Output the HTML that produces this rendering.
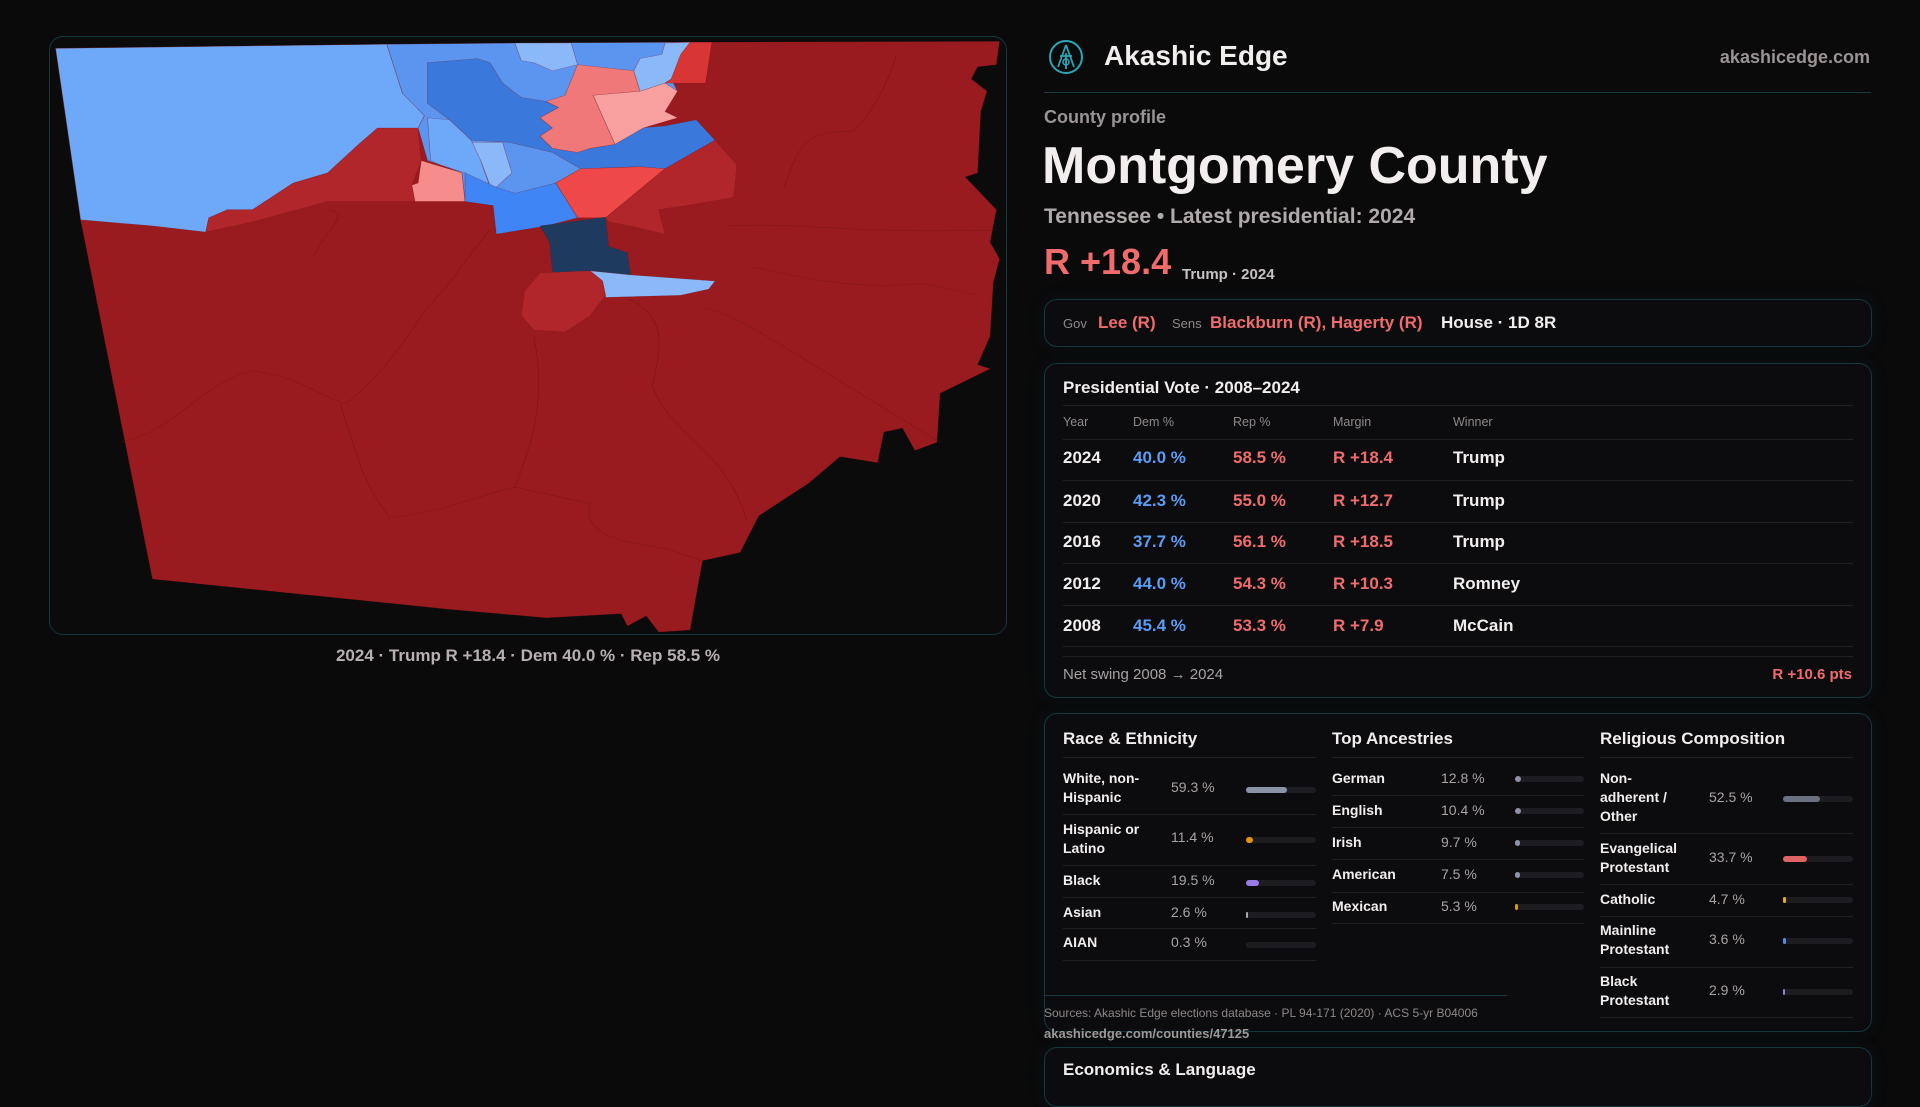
<!DOCTYPE html>
<html><head><meta charset="utf-8"><style>
*{margin:0;padding:0;box-sizing:border-box}
body{width:1920px;height:1080px;background:#0a0a0b;overflow:hidden;position:relative;font-family:"Liberation Sans",sans-serif;color:#f2eeee}
.t{position:absolute;line-height:1;white-space:nowrap}
.b{font-weight:bold}
.box{position:absolute;left:1044px;width:828px;border:1.5px solid #14363d;border-radius:13px;background:#0c0c0e;box-shadow:0 0 18px rgba(20,80,90,0.12)}
.hl{position:absolute;height:1px;background:#202024}
.red{color:#f06c6c}.blue{color:#5b9cf5}.gray{color:#8e8888}
.lb{position:absolute;font-size:14px;line-height:19px;font-weight:bold;color:#f2eeee}
.v{position:absolute;font-size:14px;line-height:1;color:#aaa3a3}
.trk{position:absolute;height:6px;border-radius:3px;background:#1d1d21}
.fil{position:absolute;left:0;top:0;height:6px;border-radius:3px}
</style></head><body>

<!-- Map panel -->
<div style="position:absolute;left:49px;top:36px;width:958px;height:599px;border:1.5px solid #14363d;border-radius:14px;background:#0b0b0c"></div>
<svg style="position:absolute;left:40px;top:30px" width="980" height="640" viewBox="0 0 1568 1568" preserveAspectRatio="none">
<g stroke="#7a1518" stroke-width="1" stroke-opacity="0.5">
<polygon fill="#9a1b1f" points="25,45 555,35 1040,30 1535,28 1530,85 1500,90 1490,120 1515,150 1505,200 1500,350 1480,360 1530,440 1520,520 1535,560 1525,620 1520,750 1500,820 1520,830 1440,890 1435,1010 1400,1030 1380,975 1350,985 1340,1060 1280,1045 1230,1110 1150,1190 1130,1250 1120,1280 1060,1300 1055,1340 1040,1470 990,1475 970,1435 940,1460 930,1430 810,1440 660,1420 180,1345 65,465"/>
<polygon fill="#b1262a" points="265,495 270,460 300,440 340,440 405,375 460,350 510,280 540,240 605,240 610,320 595,380 600,420 460,420 340,470"/>
<polygon fill="#6ea8f8" points="25,45 555,35 580,155 620,150 615,210 605,240 540,240 510,280 460,350 405,375 340,440 300,440 270,460 265,495 180,480 65,465"/>
<polygon fill="#5b95f0" points="555,35 760,32 1040,30 1025,60 1010,120 1020,150 1000,200 1020,215 960,240 1080,270 1000,340 865,340 825,375 860,460 810,480 730,500 725,430 680,420 675,350 640,330 620,320 605,240 615,210 580,155"/>
<polygon fill="#8ab8f8" points="760,32 850,32 860,85 820,100 790,80 770,75"/>
<polygon fill="#3a78dc" points="620,80 700,70 720,80 740,130 770,165 810,175 830,190 800,215 820,240 800,260 820,290 860,300 880,290 920,280 960,240 1000,235 1050,220 1080,270 1000,340 960,335 865,340 820,300 750,275 690,270 655,220 620,180"/>
<polygon fill="#8ab8f8" points="685,275 740,275 755,350 730,385 720,380 705,320"/>
<polygon fill="#6ea8f8" points="620,215 655,220 690,270 705,320 720,385 680,350 640,330 625,320"/>
<polygon fill="#f07878" points="840,160 860,85 950,100 960,150 885,160 920,280 880,290 860,300 820,290 800,260 820,240 800,215 830,190 810,175"/>
<polygon fill="#f8a0a0" points="885,160 960,150 1000,130 1020,150 1000,200 1020,215 965,240 920,280"/>
<polygon fill="#8ab8f8" points="960,70 995,60 1000,32 1040,30 1010,120 1000,130 960,150 950,100"/>
<polygon fill="#d83535" points="1040,30 1075,30 1065,130 1000,130 1010,120 1025,60"/>
<polygon fill="#ef4848" points="865,340 960,335 1000,340 905,460 860,460 825,375"/>
<polygon fill="#b1262a" points="1000,340 1080,270 1115,330 1110,410 1035,430 990,440 1000,500 945,480 910,470 905,460"/>
<polygon fill="#f58d8d" points="610,320 675,350 680,420 600,420 595,380 605,375"/>
<polygon fill="#3f85f5" points="680,420 725,430 730,500 810,480 860,460 825,375 760,400 730,385 680,350"/>
<polygon fill="#1e3a5f" points="800,480 905,458 910,530 940,545 945,600 880,590 820,595 815,520"/>
<polygon fill="#8ab8f8" points="880,590 945,600 1080,615 1070,635 1025,650 905,655 900,615"/>
<polygon fill="#b1262a" points="800,595 880,590 900,615 905,650 880,700 840,740 790,735 770,700 775,640"/>
</g>
<g fill="none" stroke="#6e1215" stroke-width="1.2" stroke-opacity="0.6">
<path d="M130,1010 C220,980 260,860 340,835 C420,850 460,910 490,915 C560,830 600,720 620,680 C660,620 680,560 720,490"/>
<path d="M480,915 C500,1000 510,1100 560,1195 C650,1180 700,1140 760,1120 C790,1000 810,900 790,750"/>
<path d="M760,1120 L880,1160 C870,1220 900,1250 1000,1270 L1060,1300"/>
<path d="M940,660 C1010,700 990,800 980,870 C1000,980 1100,1030 1130,1200"/>
<path d="M1060,680 C1120,700 1160,750 1440,1010"/>
<path d="M1190,390 C1210,300 1220,240 1300,250 C1330,210 1360,120 1370,60"/>
<path d="M1140,580 C1200,600 1300,640 1410,620 L1500,650"/>
<path d="M1100,480 C1200,470 1300,500 1530,490"/>
<path d="M440,550 C460,480 500,450 460,440"/>
</g>
</svg>
<div class="t b" style="left:0;width:1056px;text-align:center;top:647px;font-size:17px;color:#b8b0b0">2024 · Trump R +18.4 · Dem 40.0 % · Rep 58.5 %</div>

<!-- Header -->
<svg style="position:absolute;left:1048px;top:39px" width="36" height="36" viewBox="0 0 36 36"><circle cx="18" cy="18" r="16" fill="none" stroke="#2aa7b8" stroke-width="2"/><path d="M18 6 L10 28 M18 6 L26 28 M12 17 L24 17 M18 14 L18 30" stroke="#2aa7b8" stroke-width="1.8" fill="none"/><circle cx="18" cy="23" r="3" fill="none" stroke="#2aa7b8" stroke-width="1.5"/></svg>
<div class="t b" style="left:1104px;top:42px;font-size:28px">Akashic Edge</div>
<div class="t b" style="right:50px;top:48px;font-size:18px;color:#9a9494">akashicedge.com</div>
<div style="position:absolute;left:1044px;width:827px;top:92px;height:1px;background:#173a40"></div>
<div class="t b" style="left:1044px;top:108px;font-size:18px;color:#9a9494">County profile</div>
<div class="t b" style="left:1042px;top:140px;font-size:52px">Montgomery County</div>
<div class="t b" style="left:1044px;top:206px;font-size:21px;color:#b0aaaa">Tennessee • Latest presidential: 2024</div>
<div class="t b red" style="left:1044px;top:244px;font-size:36px">R +18.4</div>
<div class="t b" style="left:1182px;top:267px;font-size:15px;color:#c8c2c2">Trump · 2024</div>

<div class="box" style="top:299px;height:48px"></div>
<div class="t" style="left:1063px;top:317px;font-size:13px;color:#8e8888">Gov</div>
<div class="t b red" style="left:1098px;top:314px;font-size:17px">Lee (R)</div>
<div class="t" style="left:1172px;top:317px;font-size:13px;color:#8e8888">Sens</div>
<div class="t b red" style="left:1210px;top:314px;font-size:17px">Blackburn (R), Hagerty (R)</div>
<div class="t b" style="left:1441px;top:314px;font-size:17px">House · 1D 8R</div>

<!-- Presidential -->
<div class="box" style="top:363px;height:335px"></div>
<div class="t b" style="left:1063px;top:379px;font-size:17px">Presidential Vote · 2008–2024</div>
<div class="hl" style="left:1063px;width:790px;top:405px"></div>
<div class="t gray" style="left:1063px;top:416px;font-size:12.5px">Year</div>
<div class="t gray" style="left:1133px;top:416px;font-size:12.5px">Dem %</div>
<div class="t gray" style="left:1233px;top:416px;font-size:12.5px">Rep %</div>
<div class="t gray" style="left:1333px;top:416px;font-size:12.5px">Margin</div>
<div class="t gray" style="left:1453px;top:416px;font-size:12.5px">Winner</div>
<div class="hl" style="left:1063px;width:790px;top:439px"></div>

<div class="t b" style="left:1063px;top:449px;font-size:17px">2024</div><div class="t b blue" style="left:1133px;top:449px;font-size:17px">40.0 %</div><div class="t b red" style="left:1233px;top:449px;font-size:17px">58.5 %</div><div class="t b red" style="left:1333px;top:449px;font-size:17px">R +18.4</div><div class="t b" style="left:1453px;top:449px;font-size:17px">Trump</div>
<div class="hl" style="left:1063px;width:790px;top:480px"></div>
<div class="t b" style="left:1063px;top:492px;font-size:17px">2020</div><div class="t b blue" style="left:1133px;top:492px;font-size:17px">42.3 %</div><div class="t b red" style="left:1233px;top:492px;font-size:17px">55.0 %</div><div class="t b red" style="left:1333px;top:492px;font-size:17px">R +12.7</div><div class="t b" style="left:1453px;top:492px;font-size:17px">Trump</div>
<div class="hl" style="left:1063px;width:790px;top:522px"></div>
<div class="t b" style="left:1063px;top:533px;font-size:17px">2016</div><div class="t b blue" style="left:1133px;top:533px;font-size:17px">37.7 %</div><div class="t b red" style="left:1233px;top:533px;font-size:17px">56.1 %</div><div class="t b red" style="left:1333px;top:533px;font-size:17px">R +18.5</div><div class="t b" style="left:1453px;top:533px;font-size:17px">Trump</div>
<div class="hl" style="left:1063px;width:790px;top:563px"></div>
<div class="t b" style="left:1063px;top:575px;font-size:17px">2012</div><div class="t b blue" style="left:1133px;top:575px;font-size:17px">44.0 %</div><div class="t b red" style="left:1233px;top:575px;font-size:17px">54.3 %</div><div class="t b red" style="left:1333px;top:575px;font-size:17px">R +10.3</div><div class="t b" style="left:1453px;top:575px;font-size:17px">Romney</div>
<div class="hl" style="left:1063px;width:790px;top:605px"></div>
<div class="t b" style="left:1063px;top:617px;font-size:17px">2008</div><div class="t b blue" style="left:1133px;top:617px;font-size:17px">45.4 %</div><div class="t b red" style="left:1233px;top:617px;font-size:17px">53.3 %</div><div class="t b red" style="left:1333px;top:617px;font-size:17px">R +7.9</div><div class="t b" style="left:1453px;top:617px;font-size:17px">McCain</div>
<div class="hl" style="left:1063px;width:790px;top:646px"></div>
<div class="hl" style="left:1063px;width:790px;top:656px"></div>
<div class="t" style="left:1063px;top:667px;font-size:15px;color:#a8a2a2">Net swing 2008 → 2024</div>
<div class="t b red" style="right:68px;top:667px;font-size:15px">R +10.6 pts</div>

<!-- Demographics -->
<div class="box" style="top:713px;height:319px"></div>
<div class="t b" style="left:1063px;top:730px;font-size:17px">Race &amp; Ethnicity</div>
<div class="t b" style="left:1332px;top:730px;font-size:17px">Top Ancestries</div>
<div class="t b" style="left:1600px;top:730px;font-size:17px">Religious Composition</div>
<div class="hl" style="left:1063px;width:253px;top:757px"></div>
<div class="hl" style="left:1332px;width:252px;top:757px"></div>
<div class="hl" style="left:1600px;width:253px;top:757px"></div>

<!-- race -->
<div class="lb" style="left:1063px;top:769px">White, non-<br>Hispanic</div><div class="v" style="left:1171px;top:780px">59.3 %</div>
<div class="trk" style="left:1246px;top:787px;width:70px"><div class="fil" style="width:41px;background:#8a93a8"></div></div>
<div class="hl" style="left:1063px;width:253px;top:814px"></div>
<div class="lb" style="left:1063px;top:820px">Hispanic or<br>Latino</div><div class="v" style="left:1171px;top:830px">11.4 %</div>
<div class="trk" style="left:1246px;top:837px;width:70px"><div class="fil" style="width:7px;background:#e0940f"></div></div>
<div class="hl" style="left:1063px;width:253px;top:865px"></div>
<div class="lb" style="left:1063px;top:871px">Black</div><div class="v" style="left:1171px;top:873px">19.5 %</div>
<div class="trk" style="left:1246px;top:880px;width:70px"><div class="fil" style="width:13px;background:#9b7ae8"></div></div>
<div class="hl" style="left:1063px;width:253px;top:897px"></div>
<div class="lb" style="left:1063px;top:903px">Asian</div><div class="v" style="left:1171px;top:905px">2.6 %</div>
<div class="trk" style="left:1246px;top:912px;width:70px"><div class="fil" style="width:2px;background:#aaa"></div></div>
<div class="hl" style="left:1063px;width:253px;top:928px"></div>
<div class="lb" style="left:1063px;top:933px">AIAN</div><div class="v" style="left:1171px;top:935px">0.3 %</div>
<div class="trk" style="left:1246px;top:942px;width:70px"></div>
<div class="hl" style="left:1063px;width:253px;top:960px"></div>

<!-- ancestries -->
<div class="lb" style="left:1332px;top:769px">German</div><div class="v" style="left:1441px;top:771px">12.8 %</div>
<div class="trk" style="left:1515px;top:776px;width:69px"><div class="fil" style="width:6px;background:#8a93a8"></div></div>
<div class="hl" style="left:1332px;width:252px;top:795px"></div>
<div class="lb" style="left:1332px;top:801px">English</div><div class="v" style="left:1441px;top:803px">10.4 %</div>
<div class="trk" style="left:1515px;top:808px;width:69px"><div class="fil" style="width:6px;background:#8a93a8"></div></div>
<div class="hl" style="left:1332px;width:252px;top:827px"></div>
<div class="lb" style="left:1332px;top:833px">Irish</div><div class="v" style="left:1441px;top:835px">9.7 %</div>
<div class="trk" style="left:1515px;top:840px;width:69px"><div class="fil" style="width:5px;background:#8a93a8"></div></div>
<div class="hl" style="left:1332px;width:252px;top:859px"></div>
<div class="lb" style="left:1332px;top:865px">American</div><div class="v" style="left:1441px;top:867px">7.5 %</div>
<div class="trk" style="left:1515px;top:872px;width:69px"><div class="fil" style="width:5px;background:#8a93a8"></div></div>
<div class="hl" style="left:1332px;width:252px;top:892px"></div>
<div class="lb" style="left:1332px;top:897px">Mexican</div><div class="v" style="left:1441px;top:899px">5.3 %</div>
<div class="trk" style="left:1515px;top:904px;width:69px"><div class="fil" style="width:3px;background:#e0940f"></div></div>
<div class="hl" style="left:1332px;width:252px;top:923px"></div>

<!-- religion -->
<div class="lb" style="left:1600px;top:769px">Non-<br>adherent /<br>Other</div><div class="v" style="left:1709px;top:790px">52.5 %</div>
<div class="trk" style="left:1783px;top:796px;width:70px"><div class="fil" style="width:37px;background:#6b7180"></div></div>
<div class="hl" style="left:1600px;width:253px;top:833px"></div>
<div class="lb" style="left:1600px;top:839px">Evangelical<br>Protestant</div><div class="v" style="left:1709px;top:850px">33.7 %</div>
<div class="trk" style="left:1783px;top:856px;width:70px"><div class="fil" style="width:24px;background:#e06363"></div></div>
<div class="hl" style="left:1600px;width:253px;top:884px"></div>
<div class="lb" style="left:1600px;top:890px">Catholic</div><div class="v" style="left:1709px;top:892px">4.7 %</div>
<div class="trk" style="left:1783px;top:897px;width:70px"><div class="fil" style="width:3px;background:#e0b020"></div></div>
<div class="hl" style="left:1600px;width:253px;top:916px"></div>
<div class="lb" style="left:1600px;top:921px">Mainline<br>Protestant</div><div class="v" style="left:1709px;top:932px">3.6 %</div>
<div class="trk" style="left:1783px;top:938px;width:70px"><div class="fil" style="width:3px;background:#4a90e8"></div></div>
<div class="hl" style="left:1600px;width:253px;top:967px"></div>
<div class="lb" style="left:1600px;top:972px">Black<br>Protestant</div><div class="v" style="left:1709px;top:983px">2.9 %</div>
<div class="trk" style="left:1783px;top:989px;width:70px"><div class="fil" style="width:2px;background:#9b7ae8"></div></div>
<div class="hl" style="left:1600px;width:253px;top:1017px"></div>

<div style="position:absolute;left:1044px;width:463px;top:995px;height:1px;background:#173a40"></div>
<div class="t" style="left:1044px;top:1007px;font-size:12px;color:#8e8888">Sources: Akashic Edge elections database · PL 94-171 (2020) · ACS 5-yr B04006</div>
<div class="t b" style="left:1044px;top:1027px;font-size:13px;color:#a09a9a">akashicedge.com/counties/47125</div>

<div class="box" style="top:1047px;height:60px"></div>
<div class="t b" style="left:1063px;top:1061px;font-size:17px">Economics &amp; Language</div>
</body></html>
